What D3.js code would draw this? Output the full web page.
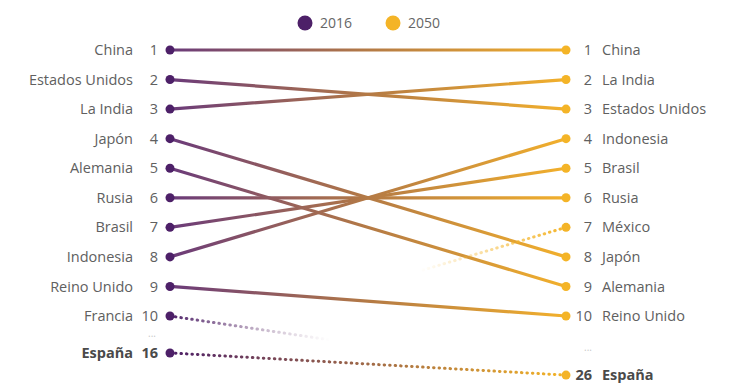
<!DOCTYPE html>
<html>
<head>
<meta charset="utf-8">
<script src="https://cdn.jsdelivr.net/npm/d3@7"></script>
<style>
  body { margin: 0; background: #fff; }
  text { font-family: "Open Sans", "Noto Sans", sans-serif; }
</style>
</head>
<body>
<script>
/* data */
var countries = ["China", "Estados Unidos", "La India", "Japón", "Alemania", "Rusia", "Brasil", "Indonesia", "Reino Unido", "Francia", "México", "España"];
var rank2016 = [1, 2, 3, 4, 5, 6, 7, 8, 9, 10, 11, 16];
var rank2050 = [1, 3, 2, 8, 9, 6, 5, 4, 10, 12, 7, 26];
var years = ["2016", "2050"];
var highlight = "España";

var width = 739, height = 386;
var xLeft = 170, xRight = 566;
var fs = 14.5;

var svg = d3.select("body").append("svg")
    .attr("width", width)
    .attr("height", height);

var defs = svg.append("defs");

/* rank -> y */
var y = d3.scaleLinear().domain([1, 10]).range([50, 316]);
var x = d3.scalePoint().domain(years).range([xLeft, xRight]);

var purple = "#4d2068", gold = "#f4b427";
var lineLeft = "#6a3a7a", lineRight = "#f2b02c";

/* bottom row for the highlighted country sits below the top ten */
function yPos(name, r, side){
    if (name == highlight) return side == "left" ? y(11.25) : y(12);
    return y(r);
}

var rows = countries.map(function(c, i){
    return {name: c, r0: rank2016[i], r1: rank2050[i],
            y0: yPos(c, rank2016[i], "left"), y1: yPos(c, rank2050[i], "right")};
});

/* gradients */
var grad = defs.append("linearGradient")
    .attr("id", "g-main")
    .attr("gradientUnits", "userSpaceOnUse")
    .attr("x1", x("2016")).attr("x2", x("2050"))
    .attr("y1", 0).attr("y2", 0);
grad.append("stop").attr("offset", "0%").attr("stop-color", lineLeft);
grad.append("stop").attr("offset", "50%").attr("stop-color", "#b47a45");
grad.append("stop").attr("offset", "100%").attr("stop-color", lineRight);

var fadeOut = defs.append("linearGradient")
    .attr("id", "g-fadeout")
    .attr("gradientUnits", "userSpaceOnUse")
    .attr("x1", x("2016")).attr("x2", 330)
    .attr("y1", 0).attr("y2", 0);
fadeOut.append("stop").attr("offset", "0%").attr("stop-color", purple).attr("stop-opacity", 1);
fadeOut.append("stop").attr("offset", "100%").attr("stop-color", "#9a7a9a").attr("stop-opacity", 0);

var fadeIn = defs.append("linearGradient")
    .attr("id", "g-fadein")
    .attr("gradientUnits", "userSpaceOnUse")
    .attr("x1", 420).attr("x2", x("2050"))
    .attr("y1", 0).attr("y2", 0);
fadeIn.append("stop").attr("offset", "0%").attr("stop-color", gold).attr("stop-opacity", 0);
fadeIn.append("stop").attr("offset", "100%").attr("stop-color", gold).attr("stop-opacity", 1);

var spain = defs.append("linearGradient")
    .attr("id", "g-spain")
    .attr("gradientUnits", "userSpaceOnUse")
    .attr("x1", x("2016")).attr("x2", x("2050"))
    .attr("y1", 0).attr("y2", 0);
spain.append("stop").attr("offset", "0%").attr("stop-color", purple);
spain.append("stop").attr("offset", "100%").attr("stop-color", gold);

/* lines */
var lines = svg.append("g");
rows.forEach(function(d){
    var stroke = "url(#g-main)", dash = null;
    if (d.r1 > 10 && d.name != highlight) { stroke = "url(#g-fadeout)"; dash = "0.5 5"; }
    else if (d.r0 > 10 && d.name != highlight) { stroke = "url(#g-fadein)"; dash = "0.5 5"; }
    else if (d.name == highlight) { stroke = "url(#g-spain)"; dash = "0.5 5"; }
    lines.append("line")
	.attr("x1", x("2016")).attr("y1", d.y0)
	.attr("x2", x("2050")).attr("y2", d.y1)
	.attr("stroke", stroke)
	.attr("stroke-width", dash ? 3 : 3.2)
	.attr("stroke-linecap", "round")
	.attr("stroke-dasharray", dash);
});

var txt = "#606060", txtBold = "#4a4a4a";

function weight(d){ return d.name == highlight ? "bold" : null; }
function colour(d){ return d.name == highlight ? txtBold : txt; }

/* left side */
var left = rows.filter(function(d){ return d.r0 <= 10 || d.name == highlight; });
svg.selectAll(".dot0").data(left).enter().append("circle")
    .attr("cx", x("2016")).attr("cy", function(d){ return d.y0; })
    .attr("r", 4.5).attr("fill", purple);
svg.selectAll(".rank0").data(left).enter().append("text")
    .attr("x", 158).attr("y", function(d){ return d.y0; })
    .attr("dy", "0.35em").attr("text-anchor", "end")
    .attr("font-size", fs).attr("fill", colour).attr("font-weight", weight)
    .text(function(d){ return d.r0; });
svg.selectAll(".name0").data(left).enter().append("text")
    .attr("x", 133).attr("y", function(d){ return d.y0; })
    .attr("dy", "0.35em").attr("text-anchor", "end")
    .attr("font-size", fs).attr("fill", colour).attr("font-weight", weight)
    .text(function(d){ return d.name; });

/* right side */
var right = rows.filter(function(d){ return d.r1 <= 10 || d.name == highlight; });
svg.selectAll(".dot1").data(right).enter().append("circle")
    .attr("cx", x("2050")).attr("cy", function(d){ return d.y1; })
    .attr("r", 4.5).attr("fill", gold);
svg.selectAll(".rank1").data(right).enter().append("text")
    .attr("x", 592).attr("y", function(d){ return d.y1; })
    .attr("dy", "0.35em").attr("text-anchor", "end")
    .attr("font-size", fs).attr("fill", colour).attr("font-weight", weight)
    .text(function(d){ return d.r1; });
svg.selectAll(".name1").data(right).enter().append("text")
    .attr("x", 602).attr("y", function(d){ return d.y1; })
    .attr("dy", "0.35em")
    .attr("font-size", fs).attr("fill", colour).attr("font-weight", weight)
    .text(function(d){ return d.name; });

/* gaps in ranking */
svg.append("text").attr("x", 152).attr("y", y(10.72)).attr("text-anchor", "middle")
    .attr("font-size", 10).attr("fill", "#c8c8c8").text("...");
svg.append("text").attr("x", 588).attr("y", y(11.2)).attr("text-anchor", "middle")
    .attr("font-size", 10).attr("fill", "#c8c8c8").text("...");

/* legend */
var legend = svg.append("g");
var legendColors = [purple, gold];
years.forEach(function(yr, i){
    var lx = 305 + i * 88;
    legend.append("circle").attr("cx", lx).attr("cy", 23).attr("r", 7.5).attr("fill", legendColors[i]);
    legend.append("text").attr("x", lx + 15).attr("y", 23).attr("dy", "0.35em")
	.attr("font-size", 14).attr("fill", "#666").text(yr);
});
</script>
</body>
</html>
